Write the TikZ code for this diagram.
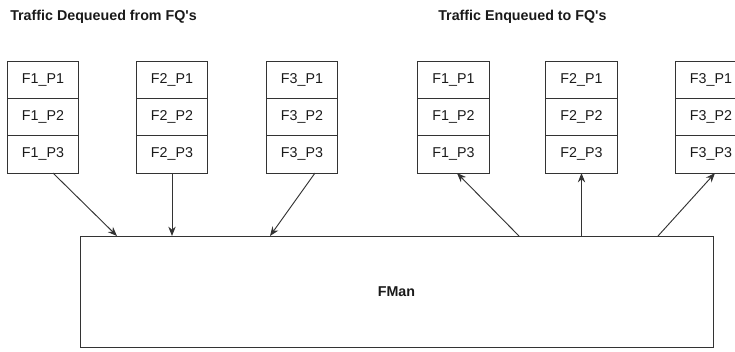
\documentclass[tikz,border=0pt]{standalone}
\usepackage{fontspec}
\setmainfont{Liberation Sans}
\usetikzlibrary{arrows.meta,positioning}
\definecolor{LineGray}{HTML}{333333}
\definecolor{TextGray}{HTML}{1A1A1A}

\begin{document}
\begin{tikzpicture}[x=0.75pt,y=-0.75pt,node distance=0pt, every node/.style={font=\fontsize{10.7}{12}\selectfont,text=TextGray}, cell/.style={draw=LineGray,line width=0.75pt,minimum width=53.5pt,minimum height=28pt,inner sep=0pt,outer sep=0pt}, hd/.style={anchor=west,inner sep=0pt,font=\fontsize{10.7}{12}\selectfont\bfseries}, a/.style={-{Stealth[length=7pt,width=5.5pt]},line width=0.7pt,LineGray}]
\useasboundingbox (0,0) rectangle (735,351);
\clip (0,0) rectangle (735,351);
\node[hd] (deqtitle) at (10,17) {Traffic Dequeued from FQ\textquotesingle s};
\node[hd] (enqtitle) at (438,17) {Traffic Enqueued to FQ\textquotesingle s};
% dequeued side
\node[cell] (d1p1) at (43,79.7) {F1\_P1};
\node[cell,below=of d1p1] (d1p2) {F1\_P2};
\node[cell,below=of d1p2] (d1p3) {F1\_P3};
\node[cell] (d2p1) at (172,79.7) {F2\_P1};
\node[cell,below=of d2p1] (d2p2) {F2\_P2};
\node[cell,below=of d2p2] (d2p3) {F2\_P3};
\node[cell] (d3p1) at (302,79.7) {F3\_P1};
\node[cell,below=of d3p1] (d3p2) {F3\_P2};
\node[cell,below=of d3p2] (d3p3) {F3\_P3};
% enqueued side
\node[cell] (e1p1) at (453.5,79.7) {F1\_P1};
\node[cell,below=of e1p1] (e1p2) {F1\_P2};
\node[cell,below=of e1p2] (e1p3) {F1\_P3};
\node[cell] (e2p1) at (581.5,79.7) {F2\_P1};
\node[cell,below=of e2p1] (e2p2) {F2\_P2};
\node[cell,below=of e2p2] (e2p3) {F2\_P3};
\node[cell] (e3p1) at (711,79.7) {F3\_P1};
\node[cell,below=of e3p1] (e3p2) {F3\_P2};
\node[cell,below=of e3p2] (e3p3) {F3\_P3};
% frame manager
\node[cell,minimum width=474.75pt,minimum height=83.25pt,font=\fontsize{10.7}{12}\selectfont\bfseries] (fman) at (396.5,291.5) {FMan};
\coordinate (in1) at ([xshift=27.75pt]fman.north west);
\coordinate (in3) at ([xshift=142.5pt]fman.north west);
\coordinate (out1) at ([xshift=329.25pt]fman.north west);
\coordinate (out3) at ([xshift=433.5pt]fman.north west);
\draw[a] ([xshift=7.5pt]d1p3.south) -- (in1);
\draw[a] (d2p3.south) -- (d2p3 |- fman.north);
\draw[a] ([xshift=9.75pt]d3p3.south) -- (in3);
\draw[a] (out1) -- ([xshift=2.6pt]e1p3.south);
\draw[a] (e2p3 |- fman.north) -- (e2p3.south);
\draw[a] (out3) -- ([xshift=3pt]e3p3.south);
\end{tikzpicture}
\end{document}
